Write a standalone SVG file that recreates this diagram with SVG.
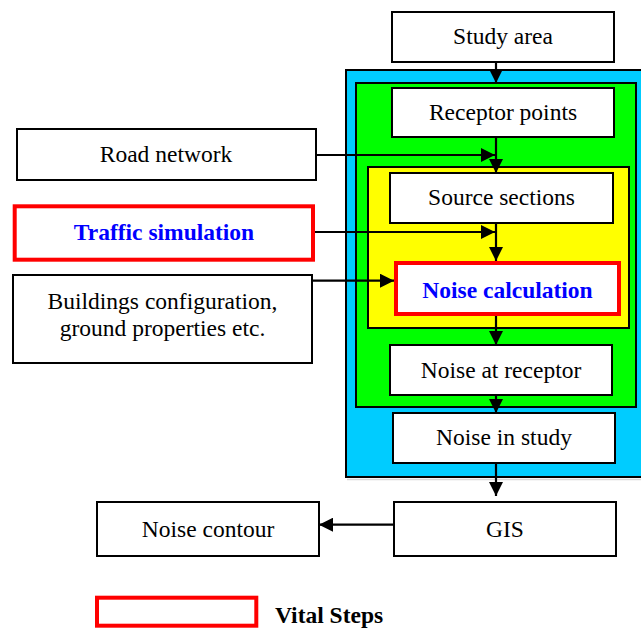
<svg xmlns="http://www.w3.org/2000/svg" width="641" height="630" viewBox="0 0 641 630">
<style>
.box{fill:#fff;stroke:#000;stroke-width:2}
.vital{fill:#fff;stroke:#ff0000;stroke-width:4}
.t{font-family:"Liberation Serif","Times New Roman",serif;font-size:23.5px;fill:#000;text-anchor:middle}
.tb{font-family:"Liberation Serif","Times New Roman",serif;font-size:23.5px;font-weight:bold;fill:#0000ff;text-anchor:middle}
.conn{fill:none;stroke:#000;stroke-width:2.2}
</style>
<defs>
<marker id="ah" markerUnits="userSpaceOnUse" markerWidth="15" markerHeight="14" refX="14" refY="7" orient="auto">
<path d="M0,0 L14,7 L0,14 z" fill="#000"/>
</marker>
</defs>
<rect width="641" height="630" fill="#fff"/>
<g id="containers">
<line x1="347" y1="479.5" x2="641" y2="479.5" stroke="#d8d8d8" stroke-width="1.5"/>
<rect x="346" y="70" width="300" height="407" fill="#00ccff" stroke="#000" stroke-width="2"/>
<rect x="356" y="83" width="280" height="324" fill="#00ff00" stroke="#000" stroke-width="2"/>
<rect x="368" y="167" width="261" height="161" fill="#ffff00" stroke="#000" stroke-width="2"/>
</g>
<g id="study-area"><rect class="box" x="392" y="12" width="222" height="50"/><text class="t" x="503" y="44">Study area</text></g>
<g id="receptor-points"><rect class="box" x="392" y="88" width="222" height="49"/><text class="t" x="503" y="119.5">Receptor points</text></g>
<g id="source-sections"><rect class="box" x="390" y="173" width="223" height="50"/><text class="t" x="501.5" y="204.5">Source sections</text></g>
<g id="noise-calculation"><rect class="vital" x="396" y="263" width="223" height="51"/><text class="tb" x="507.5" y="298">Noise calculation</text></g>
<g id="noise-at-receptor"><rect class="box" x="390" y="345" width="222" height="50"/><text class="t" x="501" y="377.5">Noise at receptor</text></g>
<g id="noise-in-study"><rect class="box" x="393" y="413" width="222" height="50"/><text class="t" x="504" y="445">Noise in study</text></g>
<g id="gis"><rect class="box" x="394" y="502" width="222" height="54"/><text class="t" x="505" y="537">GIS</text></g>
<g id="noise-contour"><rect class="box" x="97" y="502" width="222" height="54"/><text class="t" x="208" y="536.5">Noise contour</text></g>
<g id="road-network"><rect class="box" x="17" y="129" width="299" height="51"/><text class="t" x="166" y="162">Road network</text></g>
<g id="traffic-simulation"><rect class="vital" x="14.7" y="206.3" width="298.3" height="53.4"/><text class="tb" x="164" y="240">Traffic simulation</text></g>
<g id="buildings"><rect class="box" x="13" y="275" width="299" height="88"/><text class="t" x="162.5" y="308.5">Buildings configuration,</text><text class="t" x="162.5" y="336">ground properties etc.</text></g>
<g id="connectors">
<path class="conn" d="M496,62 V83" marker-end="url(#ah)"/>
<path class="conn" d="M496,137 V173" marker-end="url(#ah)"/>
<path class="conn" d="M316,155 H495" marker-end="url(#ah)"/>
<path class="conn" d="M496,223 V261" marker-end="url(#ah)"/>
<path class="conn" d="M315,232 H495" marker-end="url(#ah)"/>
<path class="conn" d="M312,280.7 H394" marker-end="url(#ah)"/>
<path class="conn" d="M496,316 V345" marker-end="url(#ah)"/>
<path class="conn" d="M496,395 V413" marker-end="url(#ah)"/>
<path class="conn" d="M496,463 V496" marker-end="url(#ah)"/>
<path class="conn" d="M394,524.7 H319" marker-end="url(#ah)"/>
</g>
<g id="legend"><rect class="vital" x="97" y="597.7" width="159.3" height="28"/><text x="275" y="623.3" style="font-family:'Liberation Serif','Times New Roman',serif;font-size:23.5px;font-weight:bold;fill:#000">Vital Steps</text></g>
</svg>
